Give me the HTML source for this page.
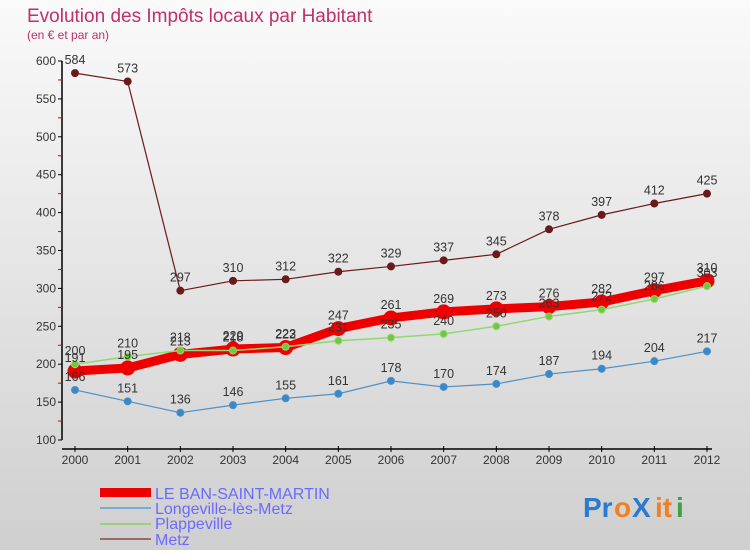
<!DOCTYPE html>
<html><head><meta charset="utf-8"><style>
body{margin:0;width:750px;height:550px;overflow:hidden;font-family:"Liberation Sans",sans-serif}
#c{position:absolute;left:0;top:0;width:750px;height:550px;background:linear-gradient(#fafafa,#cfcfcf)}
</style></head><body>
<div id="c">
<svg id="s" width="750" height="550">
<text x="27" y="22" font-size="19" fill="#c0306a">Evolution des Impôts locaux par Habitant</text>
<text x="27" y="39" font-size="12" fill="#c0306a">(en € et par an)</text>
<text x="155" y="499" font-size="16" fill="#6a6aff">LE BAN-SAINT-MARTIN</text>
<text x="155" y="514" font-size="16" fill="#6a6aff">Longeville-lès-Metz</text>
<text x="155" y="529" font-size="16" fill="#6a6aff">Plappeville</text>
<text x="155" y="545" font-size="16" fill="#6a6aff">Metz</text>
<rect x="100" y="488" width="51" height="9" fill="#e00"/>
<rect x="100" y="507" width="51" height="2" fill="#7aaad0"/>
<rect x="100" y="523" width="51" height="2" fill="#9ad07a"/>
<rect x="100" y="538" width="51" height="2" fill="#9a6a6a"/>
<g font-size="28" font-weight="bold">
<text x="583" y="517" fill="#2a7ad0">Pr</text><text x="614" y="517" fill="#f08020">o</text><text x="632" y="517" fill="#2a7ad0">X</text><text x="655" y="517" fill="#f08020">it</text><text x="676" y="517" fill="#40a040">i</text>
</g>
</svg></div>
<script>
const years=[2000,2001,2002,2003,2004,2005,2006,2007,2008,2009,2010,2011,2012];
const yTicks=[100,150,200,250,300,350,400,450,500,550,600];
const banSaintMartin=[191,195,213,220,222,247,261,269,273,276,282,297,310];
const longeville=[166,151,136,146,155,161,178,170,174,187,194,204,217];
const plappeville=[200,210,218,218,223,231,235,240,250,263,272,286,303];
const metz=[584,573,297,310,312,322,329,337,345,378,397,412,425];
const s=document.getElementById('s');
const NS='http://www.w3.org/2000/svg';
const x0=75,x1=707,yTop=61,yBot=440,vMin=100,vMax=600;
const X=i=>x0+(x1-x0)*i/(years.length-1);
const Y=v=>yBot-(v-vMin)/(vMax-vMin)*(yBot-yTop);
function mk(t,a){const e=document.createElementNS(NS,t);for(const k in a)e.setAttribute(k,a[k]);s.appendChild(e);return e;}
let e=mk('line',{x1:62,y1:yTop,x2:62,y2:yBot,stroke:'#000','stroke-width':1.5});


e=mk('line',{x1:62,y1:449,x2:712,y2:449,stroke:'#000','stroke-width':1.5});


yTicks.forEach((v,i)=>{
 let t=mk('line',{x1:58,y1:Y(v),x2:62,y2:Y(v),stroke:'#000'});
 
 
 if(i<yTicks.length-1){let m=mk('line',{x1:58,y1:Y(v+25),x2:62,y2:Y(v+25),stroke:'#d00'});
 
 }
 let l=mk('text',{x:56,y:Y(v)+4,'font-size':12,fill:'#333','text-anchor':'end'});l.textContent=v;
 
 
});
years.forEach((yr,i)=>{
 let t=mk('line',{x1:X(i),y1:446,x2:X(i),y2:452,stroke:'#000'});
 
 
 let l=mk('text',{x:X(i),y:464,'font-size':12,fill:'#333','text-anchor':'middle'});l.textContent=yr;
 
 
});
function series(name,data,color,w,r,mc){
 const p=mk('polyline',{points:data.map((v,i)=>X(i)+','+Y(v)).join(' '),fill:'none',stroke:color,'stroke-width':w,'stroke-linejoin':'round'});
 
 
 data.forEach((v,i)=>{
  const c=mk('circle',{cx:X(i),cy:Y(v),r:r,fill:mc,stroke:color,'stroke-width':1});
  
  
 });
}
function labels(name,data){
 data.forEach((v,i)=>{
  const t=mk('text',{x:X(i),y:Y(v)-9,'font-size':12.5,fill:'#333','text-anchor':'middle'});t.textContent=v;
  
  
 });
}
series('metz',metz,'#6a1a1a',1.2,3.5,'#6a1a1a');
series('longeville',longeville,'#4a90c8',1.2,3.5,'#3a88c8');
series('le-ban-saint-martin',banSaintMartin,'#ee0000',9,7,'#ee0000');
series('plappeville',plappeville,'#90d870',1.5,3.5,'#70c840');
labels('metz',metz);labels('longeville',longeville);labels('le-ban-saint-martin',banSaintMartin);labels('plappeville',plappeville);
</script>
</body></html>
